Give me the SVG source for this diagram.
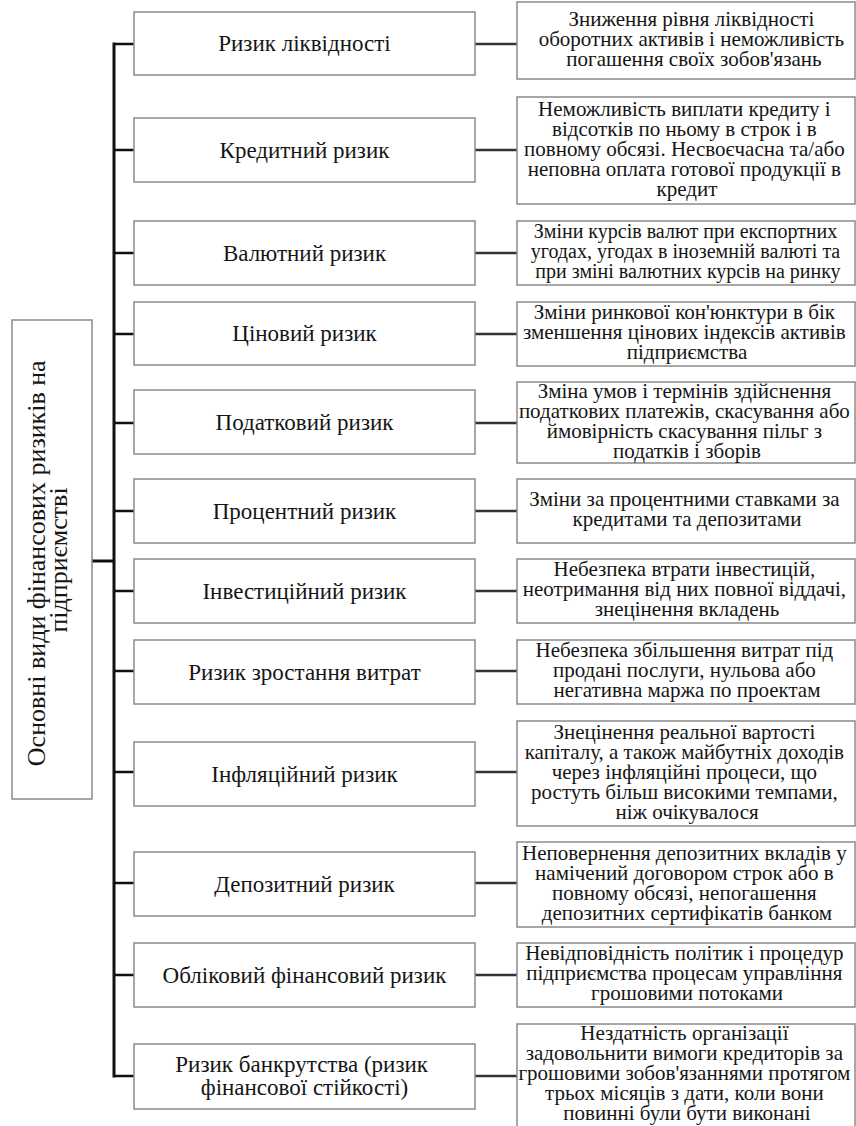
<svg xmlns="http://www.w3.org/2000/svg" width="856" height="1126" viewBox="0 0 856 1126">
  <style>
    .box { fill: #ffffff; stroke: #8a8a8a; stroke-width: 1.5; }
    .mid { font-family: "Liberation Serif", "Times New Roman", serif; font-size: 23px; fill: #151515; text-anchor: middle; }
    .desc { font-family: "Liberation Serif", "Times New Roman", serif; font-size: 21px; fill: #151515; text-anchor: middle; }
    .desc.small { font-size: 20px; }
    .root { font-family: "Liberation Serif", "Times New Roman", serif; font-size: 26px; fill: #151515; text-anchor: middle; }
    .trunk { stroke: #111111; stroke-width: 3; fill: none; }
    .branch { stroke: #111111; stroke-width: 2.5; fill: none; }
    .link { stroke: #333333; stroke-width: 2.5; fill: none; }
  </style>
  <rect width="856" height="1126" fill="#ffffff"/>

  <!-- connectors -->
  <g id="connectors">
    <line class="trunk" x1="114" y1="42.5" x2="114" y2="1077.5"/>
    <line class="trunk" x1="92" y1="561" x2="114" y2="561"/>
    <line class="branch" x1="114" y1="44" x2="134" y2="44"/>
    <line class="branch" x1="114" y1="150" x2="134" y2="150"/>
    <line class="branch" x1="114" y1="253" x2="134" y2="253"/>
    <line class="branch" x1="114" y1="334" x2="134" y2="334"/>
    <line class="branch" x1="114" y1="423" x2="134" y2="423"/>
    <line class="branch" x1="114" y1="511" x2="134" y2="511"/>
    <line class="branch" x1="114" y1="591" x2="134" y2="591"/>
    <line class="branch" x1="114" y1="671" x2="134" y2="671"/>
    <line class="branch" x1="114" y1="772" x2="134" y2="772"/>
    <line class="branch" x1="114" y1="883" x2="134" y2="883"/>
    <line class="branch" x1="114" y1="975" x2="134" y2="975"/>
    <line class="branch" x1="114" y1="1076" x2="134" y2="1076"/>
    <line class="link" x1="475" y1="44" x2="517" y2="44"/>
    <line class="link" x1="475" y1="150" x2="517" y2="150"/>
    <line class="link" x1="475" y1="253" x2="517" y2="253"/>
    <line class="link" x1="475" y1="334" x2="517" y2="334"/>
    <line class="link" x1="475" y1="423" x2="517" y2="423"/>
    <line class="link" x1="475" y1="511" x2="517" y2="511"/>
    <line class="link" x1="475" y1="591" x2="517" y2="591"/>
    <line class="link" x1="475" y1="671" x2="517" y2="671"/>
    <line class="link" x1="475" y1="772" x2="517" y2="772"/>
    <line class="link" x1="475" y1="883" x2="517" y2="883"/>
    <line class="link" x1="475" y1="975" x2="517" y2="975"/>
    <line class="link" x1="475" y1="1076" x2="517" y2="1076"/>
  </g>

  <!-- root node -->
  <g id="root">
    <rect class="box" x="12" y="320" width="80" height="479"/>
    <text class="root" transform="translate(0,560) rotate(-90)">
      <tspan x="0" y="45">Основні види фінансових ризиків на</tspan>
      <tspan x="0" y="67">підприємстві</tspan>
    </text>
  </g>

  <!-- risk types -->
  <g id="risk-liquidity">
    <rect class="box" x="134" y="12" width="341" height="63"/>
    <text class="mid" x="304.5" y="51">Ризик ліквідності</text>
  </g>
  <g id="risk-credit">
    <rect class="box" x="134" y="118" width="341" height="64"/>
    <text class="mid" x="304.5" y="157.5">Кредитний ризик</text>
  </g>
  <g id="risk-currency">
    <rect class="box" x="134" y="221" width="341" height="64"/>
    <text class="mid" x="304.5" y="260.5">Валютний ризик</text>
  </g>
  <g id="risk-price">
    <rect class="box" x="134" y="302" width="341" height="63"/>
    <text class="mid" x="304.5" y="341">Ціновий ризик</text>
  </g>
  <g id="risk-tax">
    <rect class="box" x="134" y="390" width="341" height="64"/>
    <text class="mid" x="304.5" y="429.5">Податковий ризик</text>
  </g>
  <g id="risk-interest">
    <rect class="box" x="134" y="479" width="341" height="64"/>
    <text class="mid" x="304.5" y="518.5">Процентний ризик</text>
  </g>
  <g id="risk-investment">
    <rect class="box" x="134" y="559" width="341" height="64"/>
    <text class="mid" x="304.5" y="598.5">Інвестиційний ризик</text>
  </g>
  <g id="risk-costs">
    <rect class="box" x="134" y="640" width="341" height="64"/>
    <text class="mid" x="304.5" y="679.5">Ризик зростання витрат</text>
  </g>
  <g id="risk-inflation">
    <rect class="box" x="134" y="742" width="341" height="64"/>
    <text class="mid" x="304.5" y="781.5">Інфляційний ризик</text>
  </g>
  <g id="risk-deposit">
    <rect class="box" x="134" y="852" width="341" height="64"/>
    <text class="mid" x="304.5" y="891.5">Депозитний ризик</text>
  </g>
  <g id="risk-accounting">
    <rect class="box" x="134" y="943" width="341" height="64"/>
    <text class="mid" x="304.5" y="982.5">Обліковий фінансовий ризик</text>
  </g>
  <g id="risk-bankruptcy">
    <rect class="box" x="134" y="1044" width="341" height="65"/>
    <text class="mid" x="304.5" y="1072">
      <tspan x="304.5">Ризик банкрутства (ризик</tspan>
      <tspan x="304.5" dy="23">фінансової стійкості)</tspan>
    </text>
  </g>

  <!-- descriptions -->
  <g id="desc-liquidity">
    <rect class="box" x="517" y="2" width="338" height="77"/>
    <text class="desc" x="694" y="25.5">
      <tspan x="694">Зниження рівня ліквідності</tspan>
      <tspan x="694" dy="20">оборотних активів і неможливість</tspan>
      <tspan x="694" dy="20">погашення своїх зобов'язань</tspan>
    </text>
  </g>
  <g id="desc-credit">
    <rect class="box" x="517" y="97" width="338" height="107"/>
    <text class="desc" x="687" y="115.5">
      <tspan x="687">Неможливість виплати кредиту і</tspan>
      <tspan x="687" dy="20">відсотків по ньому в строк і в</tspan>
      <tspan x="687" dy="20">повному обсязі. Несвоєчасна та/або</tspan>
      <tspan x="687" dy="20">неповна оплата готової продукції в</tspan>
      <tspan x="687" dy="20">кредит</tspan>
    </text>
  </g>
  <g id="desc-currency">
    <rect class="box" x="517" y="221" width="338" height="64"/>
    <text class="desc small" x="688" y="238">
      <tspan x="688">Зміни курсів валют при експортних</tspan>
      <tspan x="688" dy="20">угодах, угодах в іноземній валюті та</tspan>
      <tspan x="688" dy="20">при зміні валютних курсів на ринку</tspan>
    </text>
  </g>
  <g id="desc-price">
    <rect class="box" x="517" y="302" width="338" height="64"/>
    <text class="desc" x="687" y="319">
      <tspan x="687">Зміни ринкової кон'юнктури в бік</tspan>
      <tspan x="687" dy="20">зменшення цінових індексів активів</tspan>
      <tspan x="687" dy="20">підприємства</tspan>
    </text>
  </g>
  <g id="desc-tax">
    <rect class="box" x="517" y="382" width="338" height="81"/>
    <text class="desc" x="687" y="397.5">
      <tspan x="687">Зміна умов і термінів здійснення</tspan>
      <tspan x="687" dy="20">податкових платежів, скасування або</tspan>
      <tspan x="687" dy="20">ймовірність скасування пільг з</tspan>
      <tspan x="687" dy="20">податків і зборів</tspan>
    </text>
  </g>
  <g id="desc-interest">
    <rect class="box" x="517" y="479" width="338" height="64"/>
    <text class="desc" x="687" y="506">
      <tspan x="687">Зміни за процентними ставками за</tspan>
      <tspan x="687" dy="20">кредитами та депозитами</tspan>
    </text>
  </g>
  <g id="desc-investment">
    <rect class="box" x="517" y="559" width="338" height="64"/>
    <text class="desc" x="687" y="576">
      <tspan x="687">Небезпека втрати інвестицій,</tspan>
      <tspan x="687" dy="20">неотримання від них повної віддачі,</tspan>
      <tspan x="687" dy="20">знецінення вкладень</tspan>
    </text>
  </g>
  <g id="desc-costs">
    <rect class="box" x="517" y="640" width="338" height="64"/>
    <text class="desc" x="687" y="657">
      <tspan x="687">Небезпека збільшення витрат під</tspan>
      <tspan x="687" dy="20">продані послуги, нульова або</tspan>
      <tspan x="687" dy="20">негативна маржа по проектам</tspan>
    </text>
  </g>
  <g id="desc-inflation">
    <rect class="box" x="517" y="721" width="338" height="105"/>
    <text class="desc" x="687" y="738.5">
      <tspan x="687">Знецінення реальної вартості</tspan>
      <tspan x="687" dy="20">капіталу, а також майбутніх доходів</tspan>
      <tspan x="687" dy="20">через інфляційні процеси, що</tspan>
      <tspan x="687" dy="20">ростуть більш високими темпами,</tspan>
      <tspan x="687" dy="20">ніж очікувалося</tspan>
    </text>
  </g>
  <g id="desc-deposit">
    <rect class="box" x="517" y="842" width="338" height="85"/>
    <text class="desc" x="687" y="859.5">
      <tspan x="687">Неповернення депозитних вкладів у</tspan>
      <tspan x="687" dy="20">намічений договором строк або в</tspan>
      <tspan x="687" dy="20">повному обсязі, непогашення</tspan>
      <tspan x="687" dy="20">депозитних сертифікатів банком</tspan>
    </text>
  </g>
  <g id="desc-accounting">
    <rect class="box" x="517" y="943" width="338" height="64"/>
    <text class="desc" x="687" y="960">
      <tspan x="687">Невідповідність політик і процедур</tspan>
      <tspan x="687" dy="20">підприємства процесам управління</tspan>
      <tspan x="687" dy="20">грошовими потоками</tspan>
    </text>
  </g>
  <g id="desc-bankruptcy">
    <rect class="box" x="517" y="1024" width="338" height="103"/>
    <text class="desc" x="687" y="1040">
      <tspan x="687">Нездатність організації</tspan>
      <tspan x="687" dy="20">задовольнити вимоги кредиторів за</tspan>
      <tspan x="687" dy="20">грошовими зобов'язаннями протягом</tspan>
      <tspan x="687" dy="20">трьох місяців з дати, коли вони</tspan>
      <tspan x="687" dy="20">повинні були бути виконані</tspan>
    </text>
  </g>
</svg>
